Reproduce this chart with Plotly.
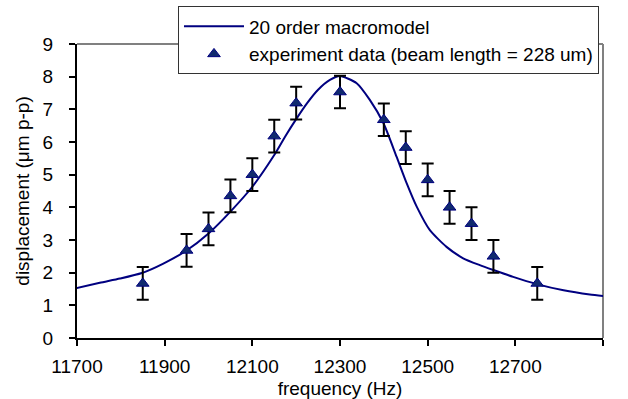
import plotly.graph_objects as go

# Model curve (20 order macromodel)
model_freq = [11684, 11752, 11798, 11848, 11897, 11949, 12000, 12050, 12100, 12150,
              12175, 12200, 12225, 12250, 12277, 12300, 12338, 12368, 12399, 12429,
              12452, 12475, 12505, 12543, 12581, 12619, 12650, 12695, 12749, 12810,
              12870, 12916]
model_disp = [1.48, 1.69, 1.82, 1.99, 2.28, 2.67, 3.20, 3.87, 4.63, 5.60,
              6.17, 6.70, 7.19, 7.60, 7.90, 8.02, 7.80, 7.29, 6.58, 5.55,
              4.74, 4.02, 3.30, 2.79, 2.44, 2.23, 2.08, 1.87, 1.65, 1.46,
              1.33, 1.26]

# Experiment data
exp_freq = [11850, 11950, 12000, 12050, 12100, 12150, 12200, 12300,
            12400, 12450, 12500, 12550, 12600, 12650, 12750]
exp_disp = [1.67, 2.68, 3.34, 4.35, 5.0, 6.18, 7.19, 7.53,
            6.68, 5.83, 4.84, 4.0, 3.5, 2.5, 1.67]
exp_err = [0.5] * len(exp_freq)

x_ticks = [11700, 11900, 12100, 12300, 12500, 12700, 12900]
y_ticks = [0, 1, 2, 3, 4, 5, 6, 7, 8, 9]

FONT = "Arial, Liberation Sans, sans-serif"
FS = 19

fig = go.Figure()
fig.add_trace(go.Scatter(
    x=model_freq, y=model_disp, mode="lines", name="20 order macromodel",
    line=dict(color="#000080", width=2, shape="spline", smoothing=0.6),
))
fig.add_trace(go.Scatter(
    x=exp_freq, y=exp_disp, mode="markers",
    name="experiment data (beam length = 228 um)",
    marker=dict(symbol="triangle-up", size=11, color="#102a6e",
                line=dict(color="#000080", width=1)),
    error_y=dict(type="data", array=exp_err, visible=True,
                 color="black", thickness=2, width=6),
))

fig.update_layout(
    width=628, height=399,
    margin=dict(l=77, r=25, t=44, b=61, autoexpand=False),
    paper_bgcolor="white", plot_bgcolor="white",
    font=dict(family=FONT, size=FS, color="black"),
    showlegend=True,
    legend=dict(
        x=0.192, y=1.128, xanchor="left", yanchor="top",
        bgcolor="white", bordercolor="#333333", borderwidth=1,
        font=dict(family=FONT, size=FS, color="black"),
        itemwidth=60, tracegroupgap=0,
    ),
    shapes=[
        dict(type="line", xref="paper", yref="paper", x0=0, x1=1, y0=1, y1=1,
             line=dict(color="#808080", width=2), layer="below"),
        dict(type="line", xref="paper", yref="paper", x0=1, x1=1, y0=0, y1=1,
             line=dict(color="#808080", width=2), layer="below"),
    ],
)
fig.update_xaxes(
    range=[11700, 12900], tickvals=x_ticks, ticktext=[str(v) for v in x_ticks],
    automargin=False,
    showgrid=False, zeroline=False, showline=True, linecolor="black", linewidth=2,
    ticks="outside", ticklen=6, tickwidth=1.5, tickcolor="black",
    ticklabelstandoff=4,
    title=dict(text="frequency (Hz)", font=dict(family=FONT, size=FS), standoff=6),
)
fig.update_yaxes(
    range=[0, 9], tickvals=y_ticks, ticktext=[str(v) for v in y_ticks],
    automargin=False,
    showgrid=False, zeroline=False, showline=True, linecolor="black", linewidth=2,
    ticks="outside", ticklen=6, tickwidth=1.5, tickcolor="black",
    ticklabelstandoff=12,
    title=dict(text="displacement (μm p-p)", font=dict(family=FONT, size=FS), standoff=8),
)

fig.write_html("out.html")
